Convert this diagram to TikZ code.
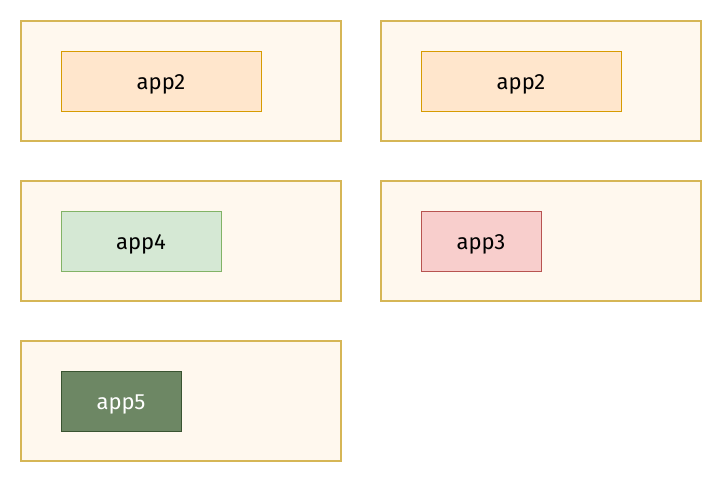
\documentclass[tikz,border=0pt]{standalone}
\usepackage{fontspec}
\setsansfont{Fira Sans}
\definecolor{hostfill}{HTML}{FFF8EE}
\definecolor{hostline}{HTML}{D6B656}
\definecolor{orfill}{HTML}{FFE6CC}
\definecolor{orline}{HTML}{D79B00}
\definecolor{redfill}{HTML}{F8CECC}
\definecolor{redline}{HTML}{B85450}
\definecolor{grfill}{HTML}{D5E8D4}
\definecolor{grline}{HTML}{82B366}
\definecolor{dkfill}{HTML}{6D8764}
\definecolor{dkline}{HTML}{3A5431}
\tikzset{
  host/.style={draw=hostline, fill=hostfill, line width=1.5pt, minimum width=320pt, minimum height=120pt, inner sep=0pt},
  app/.style={rectangle, line width=0.8pt, minimum height=60pt, inner sep=0pt, text height=20pt, text depth=3pt, font=\sffamily\fontsize{22}{24}\selectfont}
}
\begin{document}
\begin{tikzpicture}[x=1pt, y=-1pt]
  \useasboundingbox (0,0) rectangle (722,482);
  \node[host] (h1) at (181,81) {};
  \node[host] (h2) at (541,81) {};
  \node[host] (h3) at (181,241) {};
  \node[host] (h4) at (541,241) {};
  \node[host] (h5) at (181,401) {};
  \node[app, draw=orline, fill=orfill, minimum width=200pt] (a1) at (161,81) {app2};
  \node[app, draw=orline, fill=orfill, minimum width=200pt] (a2) at (521,81) {app2};
  \node[app, draw=grline, fill=grfill, minimum width=160pt] (a4) at (141,241) {app4};
  \node[app, draw=redline, fill=redfill, minimum width=120pt] (a3) at (481,241) {app3};
  \node[app, draw=dkline, fill=dkfill, text=white, minimum width=120pt] (a5) at (121,401) {app5};
\end{tikzpicture}
\end{document}
